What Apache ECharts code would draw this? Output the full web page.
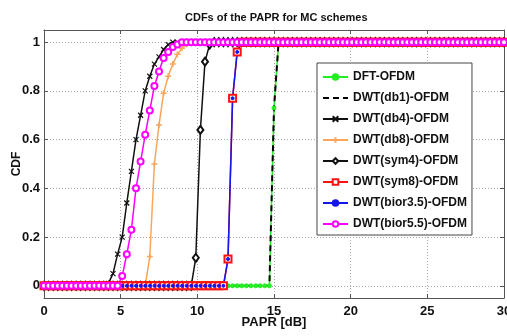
<!DOCTYPE html>
<html>
<head>
<meta charset="utf-8">
<script src="https://cdn.jsdelivr.net/npm/echarts@6/dist/echarts.min.js"></script>
<style>
html,body{margin:0;padding:0;background:#fff;}
#chart{width:507px;height:336px;}
</style>
</head>
<body>
<div id="chart"></div>
<script>
// PAPR axis values (dB)
var papr = [0,0.3,0.6,0.9,1.2,1.5,1.8,2.1,2.4,2.7,3,3.3,3.6,3.9,4.2,4.5,4.8,5.1,5.4,5.7,6,6.3,6.6,6.9,7.2,7.5,7.8,8.1,8.4,8.7,9,9.3,9.6,9.9,10.2,10.5,10.8,11.1,11.4,11.7,12,12.3,12.6,12.9,13.2,13.5,13.8,14.1,14.4,14.7,15,15.3,15.6,15.9,16.2,16.5,16.8,17.1,17.4,17.7,18,18.3,18.6,18.9,19.2,19.5,19.8,20.1,20.4,20.7,21,21.3,21.6,21.9,22.2,22.5,22.8,23.1,23.4,23.7,24,24.3,24.6,24.9,25.2,25.5,25.8,26.1,26.4,26.7,27,27.3,27.6,27.9,28.2,28.5,28.8,29.1,29.4,29.7,30];

var cdfDFT = [0,0,0,0,0,0,0,0,0,0, 0,0,0,0,0,0,0,0,0,0, 0,0,0,0,0,0,0,0,0,0, 0,0,0,0,0,0,0,0,0,0, 0,0,0,0,0,0,0,0,0,0,
  0.73,
  1,1,1,1,1,1,1,1,1,1, 1,1,1,1,1,1,1,1,1,1, 1,1,1,1,1,1,1,1,1,1, 1,1,1,1,1,1,1,1,1,1, 1,1,1,1,1,1,1,1,1,1];

var cdfDb1 = [0,0,0,0,0,0,0,0,0,0, 0,0,0,0,0,0,0,0,0,0, 0,0,0,0,0,0,0,0,0,0, 0,0,0,0,0,0,0,0,0,0, 0,0,0,0,0,0,0,0,0,0,
  0.73,
  1,1,1,1,1,1,1,1,1,1, 1,1,1,1,1,1,1,1,1,1, 1,1,1,1,1,1,1,1,1,1, 1,1,1,1,1,1,1,1,1,1, 1,1,1,1,1,1,1,1,1,1];

var cdfDb4 = [0,0,0,0,0,0,0,0,0,0, 0,0,0,0,
  0.01,0.05,0.13,0.2,0.34,0.47,0.6,0.7,0.8,0.86,0.91,0.94,0.97,0.99,
  1,1,1,1,1,1,1,1,1,1, 1,1,1,1,1,1,1,1,1,1, 1,1,1,1,1,1,1,1,1,1, 1,1,1,1,1,1,1,1,1,1, 1,1,1,1,1,1,1,1,1,1, 1,1,1,1,1,1,1,1,1,1, 1,1,1,1,1,1,1,1,1,1, 1,1,1];

var cdfDb8 = [0,0,0,0,0,0,0,0,0,0, 0,0,0,0,0,0,0,0,0,0, 0,0,0,
  0.12,0.5,0.66,0.79,0.86,0.91,0.95,0.975,0.99,
  1,1,1,1,1,1,1,1,1,1, 1,1,1,1,1,1,1,1,1,1, 1,1,1,1,1,1,1,1,1,1, 1,1,1,1,1,1,1,1,1,1, 1,1,1,1,1,1,1,1,1,1, 1,1,1,1,1,1,1,1,1,1, 1,1,1,1,1,1,1,1,1];

var cdfSym4 = [0,0,0,0,0,0,0,0,0,0, 0,0,0,0,0,0,0,0,0,0, 0,0,0,0,0,0,0,0,0,0, 0,0,0,
  0.115,0.64,0.92,0.99,
  1,1,1,1,1,1,1,1,1,1, 1,1,1,1,1,1,1,1,1,1, 1,1,1,1,1,1,1,1,1,1, 1,1,1,1,1,1,1,1,1,1, 1,1,1,1,1,1,1,1,1,1, 1,1,1,1,1,1,1,1,1,1, 1,1,1,1];

var cdfSym8 = [0,0,0,0,0,0,0,0,0,0, 0,0,0,0,0,0,0,0,0,0, 0,0,0,0,0,0,0,0,0,0, 0,0,0,0,0,0,0,0,0,0,
  0.11,0.77,0.96,
  1,1,1,1,1,1,1,1,1,1, 1,1,1,1,1,1,1,1,1,1, 1,1,1,1,1,1,1,1,1,1, 1,1,1,1,1,1,1,1,1,1, 1,1,1,1,1,1,1,1,1,1, 1,1,1,1,1,1,1,1];

var cdfBior35 = [0,0,0,0,0,0,0,0,0,0, 0,0,0,0,0,0,0,0,0,0, 0,0,0,0,0,0,0,0,0,0, 0,0,0,0,0,0,0,0,0,0,
  0.11,0.77,0.96,
  1,1,1,1,1,1,1,1,1,1, 1,1,1,1,1,1,1,1,1,1, 1,1,1,1,1,1,1,1,1,1, 1,1,1,1,1,1,1,1,1,1, 1,1,1,1,1,1,1,1,1,1, 1,1,1,1,1,1,1,1];

var cdfBior55 = [0,0,0,0,0,0,0,0,0,0, 0,0,0,0,0,0,0,
  0.04,0.13,0.23,0.4,0.51,0.62,0.72,0.82,0.88,0.935,0.96,0.98,0.99,
  1,1,1,1,1,1,1,1,1,1, 1,1,1,1,1,1,1,1,1,1, 1,1,1,1,1,1,1,1,1,1, 1,1,1,1,1,1,1,1,1,1, 1,1,1,1,1,1,1,1,1,1, 1,1,1,1,1,1,1,1,1,1, 1,1,1,1,1,1,1,1,1,1, 1];

var seriesNames = ['DFT-OFDM','DWT(db1)-OFDM','DWT(db4)-OFDM','DWT(db8)-OFDM','DWT(sym4)-OFDM','DWT(sym8)-OFDM','DWT(bior3.5)-OFDM','DWT(bior5.5)-OFDM'];
var yTicks = [0,0.2,0.4,0.6,0.8,1];

var FONT = "'Liberation Sans',Arial,sans-serif";

function pts(ys){ return papr.map(function(x,i){ return [x, ys[i]]; }); }

function mk(name, ys, color, opts){
  return {
    name: name, type: 'line', data: pts(ys),
    xAxisIndex: 0, yAxisIndex: 0,
    symbol: opts.symbol, symbolSize: opts.size,
    showAllSymbol: true,
    lineStyle: {color: color, width: opts.width || 1.5, type: opts.dash || 'solid'},
    itemStyle: {color: opts.fill || color, borderColor: color, borderWidth: opts.bw || 1},
    emphasis: {disabled: true},
    animation: false
  };
}

var chart = echarts.init(document.getElementById('chart'), null, {renderer: 'canvas'});
var axisLineStyle = {color: '#555', width: 1};
var gridStyle = {color: '#aaa', width: 1, type: [1, 2]};

var legendData = seriesNames.map(function(n, i){
  if (i === 1) return {name: n, itemStyle: {opacity: 0}};
  return {name: n};
});

chart.setOption({
  animation: false,
  backgroundColor: '#fff',
  title: {
    text: 'CDFs of the PAPR for MC schemes',
    left: 180, top: 7,
    textStyle: {fontFamily: FONT, fontSize: 11, fontWeight: 'bold', color: '#111'}
  },
  grid: {left: 44, right: 3, top: 30, bottom: 38, outerBoundsMode: 'none', containLabel: false},
  legend: {
    orient: 'vertical', left: 317, top: 63,
    padding: [7, 5, 4, 5], itemGap: 7, itemWidth: 25, itemHeight: 7,
    backgroundColor: '#fff', borderColor: '#444', borderWidth: 1,
    textStyle: {fontFamily: FONT, fontSize: 12, fontWeight: 'bold', color: '#111', lineHeight: 14},
    data: legendData
  },
  xAxis: [{
    type: 'value', min: 0, max: 30, interval: 5, position: 'bottom',
    name: 'PAPR [dB]', nameLocation: 'middle', nameGap: 18, nameMoveOverlap: false,
    nameTextStyle: {fontFamily: FONT, fontSize: 13, fontWeight: 'bold', color: '#111'},
    axisLine: {show: true, onZero: false, lineStyle: axisLineStyle},
    axisTick: {show: true, inside: true, length: 4, lineStyle: axisLineStyle},
    axisLabel: {margin: 7, fontFamily: FONT, fontSize: 13, fontWeight: 'bold', color: '#111'},
    splitLine: {show: true, lineStyle: gridStyle}
  }, {
    type: 'value', min: 0, max: 30, interval: 5, position: 'top',
    axisLine: {show: true, onZero: false, lineStyle: axisLineStyle},
    axisTick: {show: true, inside: true, length: 4, lineStyle: axisLineStyle},
    axisLabel: {show: false}, splitLine: {show: false}
  }],
  yAxis: [{
    type: 'value', min: -0.05, max: 1.05, position: 'left',
    name: 'CDF', nameLocation: 'middle', nameGap: 21, nameRotate: 90, nameMoveOverlap: false,
    nameTextStyle: {fontFamily: FONT, fontSize: 12, fontWeight: 'bold', color: '#111'},
    axisLine: {show: true, onZero: false, lineStyle: axisLineStyle},
    axisTick: {show: true, inside: true, length: 4, lineStyle: axisLineStyle, customValues: yTicks},
    axisLabel: {margin: 4, fontFamily: FONT, fontSize: 13, fontWeight: 'bold', color: '#111', customValues: yTicks,
      formatter: function(v){ return String(Math.round(v*10)/10); }},
    splitLine: {show: true, lineStyle: gridStyle}
  }, {
    type: 'value', min: -0.05, max: 1.05, position: 'right',
    axisLine: {show: true, onZero: false, lineStyle: axisLineStyle},
    axisTick: {show: true, inside: true, length: 4, lineStyle: axisLineStyle, customValues: yTicks},
    axisLabel: {show: false, customValues: yTicks}, splitLine: {show: false}
  }],
  series: [
    mk(seriesNames[0], cdfDFT, '#22ee22', {symbol: 'circle', size: 4}),
    mk(seriesNames[1], cdfDb1, '#000000', {symbol: 'none', size: 0, width: 2, dash: [6, 4]}),
    mk(seriesNames[2], cdfDb4, '#111111', {symbol: 'path://M0,0L10,10M10,0L0,10', size: 5, bw: 1.2}),
    mk(seriesNames[3], cdfDb8, '#fba55a', {symbol: 'path://M5,0L5,10M0,5L10,5', size: 6, bw: 1.5}),
    mk(seriesNames[4], cdfSym4, '#111111', {symbol: 'emptyDiamond', size: [6, 8], bw: 1.5}),
    mk(seriesNames[5], cdfSym8, '#ff1111', {symbol: 'emptyRect', size: 7, bw: 1.2}),
    mk(seriesNames[6], cdfBior35, '#1515ee', {symbol: 'circle', size: 3}),
    mk(seriesNames[7], cdfBior55, '#ff00ff', {symbol: 'emptyCircle', size: 6, bw: 1.2})
  ]
});
</script>
</body>
</html>
